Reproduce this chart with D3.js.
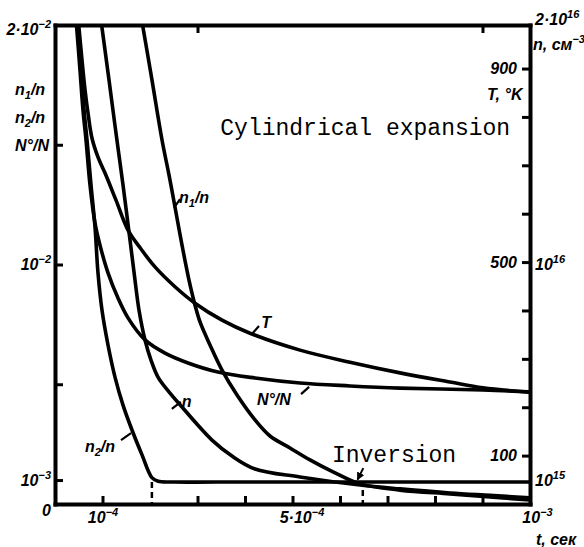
<!DOCTYPE html>
<html>
<head>
<meta charset="utf-8">
<script src="https://cdn.jsdelivr.net/npm/d3@7"></script>
<style>
  body { margin: 0; background: #fff; }
  svg { display: block; }
  .lbl { font-family: "Liberation Sans", Arial, sans-serif; font-weight: bold; font-style: italic; font-size: 16px; fill: #000; }
  .mono { font-family: "Liberation Mono", "DejaVu Sans Mono", monospace; font-size: 23px; fill: #000; }
</style>
</head>
<body>
<svg id="chart" width="584" height="547"></svg>
<script>
// t in units of 1e-4 s, ratios in units of 1e-3, n in units of 1e15 cm^-3, T in K

var n2Ratio = [[0.47,20.05],[0.547,18.12],[0.611,16.45],[0.674,15.2],[0.758,13.32],[0.842,11.57],[0.905,9.65],
  [0.989,8.1],[1.116,6.64],[1.263,5.3],[1.432,4.13],[1.621,3.09],[1.832,2.05],[2.04,1.1],[2.17,0.95],
  [2.5,0.92],[4,0.92],[6,0.92],[8,0.92],[10,0.92]];

var n1Ratio = [[1.84,20.04],[2.042,17.7],[2.253,15.2],[2.4,13.74],[2.526,12.4],[2.674,10.81],[2.821,9.35],
  [2.947,8.31],[3.053,7.6],[3.263,6.64],[3.516,5.59],[3.832,4.55],[4.211,3.51],[4.526,2.84],[4.947,2.34],
  [5.368,1.84],[5.853,1.34],[6.421,0.84],[7.263,0.58],[8.316,0.42],[9.158,0.29],[10,0.17]];

var groundRatio = [[0.45,20.05],[0.526,18.12],[0.589,16.45],[0.653,15.2],[0.737,13.32],[0.842,11.73],
  [0.947,10.81],[1.116,9.65],[1.326,8.6],[1.537,7.77],[1.895,6.85],[2.316,6.3],[2.8,5.89],[3.432,5.51],
  [4.211,5.26],[5.158,5.05],[6.21,4.93],[7.263,4.84],[9.01,4.76],[10,4.68]];

var density = [[0.979,20.04],[1.137,17.7],[1.284,15.49],[1.432,13.32],[1.579,11.02],[1.684,9.35],[1.768,8.1],
  [1.895,6.85],[2.021,6.01],[2.168,5.3],[2.421,4.63],[2.674,4.05],[2.968,3.38],[3.305,2.67],[3.726,2.0],
  [4.211,1.46],[5.158,1.13],[6.421,0.79],[7.263,0.63],[8.316,0.46],[9.158,0.36],[10,0.26]];

var temperature = [[0.49,1000],[0.568,918],[0.632,856],[0.695,808],[0.779,756],[0.905,717],[1.053,684],
  [1.284,628],[1.537,566],[1.811,527],[2.105,490],[2.526,449],[2.947,415],[3.516,380],[4.105,353],
  [5.158,318],[6.21,293],[7.263,271],[8.316,252],[9.01,240],[10,231]];

// dashed drops to the time axis: [t, level]
var drops = [[2.04, 0.92], [6.48, 0.58]];

var timeTicks = [1, 3, 4, 5, 6, 7, 8, 9, 10];
var topTicks = [3, 9];
var ratioTicks = [0, 1, 5, 10, 15, 20];
var tempTicks = [100, 200, 300, 400, 500, 600, 700, 800, 900];
var densTicks = [1, 10, 20];

var timeLabels = {1: "10^{−4}", 5: "5·10^{−4}", 10: "10^{−3}"};
var ratioLabels = {0: "0", 1: "10^{−3}", 10: "10^{−2}", 20: "2·10^{−2}"};
var tempLabels = {100: "100", 500: "500", 900: "900"};
var densLabels = {1: "10^{15}", 10: "10^{16}", 20: "2·10^{16}"};

var svg = d3.select("#chart");
var L = 55, R = 530, T = 25, B = 504;

var x = d3.scaleLinear().domain([0, 10]).range([L, R]);
var yL = d3.scaleLinear().domain([0, 20]).range([B, T]);
var yN = d3.scaleLinear().domain([0, 20]).range([B, T]);
var yT = d3.scaleLinear().domain([0, 990]).range([B, T]);

// text with ^{sup} and _{sub} pieces
function rich(sel, s) {
  sel.text(null);
  var shift = 0;
  s.split(/(\^\{[^}]*\}|_\{[^}]*\})/).filter(Boolean).forEach(function(p) {
    var k = p[0] === "^" ? -7 : p[0] === "_" ? 4 : 0;
    var ts = sel.append("tspan").text(k ? p.slice(2, -1) : p);
    if (k !== shift) ts.attr("dy", k - shift);
    if (k) ts.attr("font-size", "11px");
    shift = k;
  });
}

svg.append("defs").append("clipPath").attr("id", "plot")
  .append("rect").attr("x", L).attr("y", T).attr("width", R - L).attr("height", B - T);

var line = function(y) {
  return d3.line().x(function(d) { return x(d[0]); }).y(function(d) { return y(d[1]); })
    .curve(d3.curveCatmullRom.alpha(0.5));
};

var curves = svg.append("g").attr("clip-path", "url(#plot)")
  .attr("fill", "none").attr("stroke", "#000").attr("stroke-width", 3.6)
  .attr("stroke-linecap", "round").attr("stroke-linejoin", "round");

curves.append("path").attr("d", line(yL)(n2Ratio));
curves.append("path").attr("d", line(yL)(n1Ratio));
curves.append("path").attr("d", line(yL)(groundRatio));
curves.append("path").attr("d", line(yN)(density));
curves.append("path").attr("d", line(yT)(temperature));

svg.append("g").selectAll("line").data(drops).join("line")
  .attr("x1", function(d) { return x(d[0]); }).attr("x2", function(d) { return x(d[0]); })
  .attr("y1", function(d) { return yL(d[1]); }).attr("y2", yL(0))
  .attr("stroke", "#000").attr("stroke-width", 2.5).attr("stroke-dasharray", "6,4");

// axes
function styleAxis(g, labels, tweak) {
  g.attr("font-size", null).attr("font-family", null);
  g.select(".domain").attr("stroke-width", 4).attr("stroke-linecap", "square");
  g.selectAll(".tick line").attr("stroke-width", 3);
  g.selectAll(".tick text").attr("class", "lbl").each(function(d) {
    var s = labels ? labels[d] : null;
    if (s) rich(d3.select(this), s); else d3.select(this).text(null);
    if (tweak && tweak[d]) d3.select(this).attr("transform", "translate(" + tweak[d][0] + "," + tweak[d][1] + ")");
  });
}

svg.append("g").attr("transform", "translate(" + L + ",0)")
  .call(d3.axisLeft(yL).tickValues(ratioTicks).tickSize(-8).tickSizeOuter(0).tickPadding(4))
  .call(styleAxis, ratioLabels, {0: [0, 6], 20: [0, 4]});

svg.append("g").attr("transform", "translate(" + R + ",0)")
  .call(d3.axisLeft(yT).tickValues(tempTicks).tickSize(8).tickSizeOuter(0).tickPadding(5))
  .call(styleAxis, tempLabels, {});

svg.append("g").attr("transform", "translate(" + R + ",0)")
  .call(d3.axisRight(yN).tickValues(densTicks).tickSize(0).tickPadding(5))
  .call(styleAxis, densLabels, {20: [0, -6]})
  .select(".domain").remove();

svg.append("g").attr("transform", "translate(0," + B + ")")
  .call(d3.axisBottom(x).tickValues(timeTicks).tickSize(-8).tickSizeOuter(0).tickPadding(8))
  .call(styleAxis, timeLabels, {5: [9, 0], 10: [7, 0]});

svg.append("g").attr("transform", "translate(0," + T + ")")
  .call(d3.axisTop(x).tickValues(topTicks).tickSize(-8).tickSizeOuter(0))
  .call(styleAxis, null, {});

// axis titles
var titles = [
  {s: "n_{1}/n", x: 15, y: 95},
  {s: "n_{2}/n", x: 15, y: 123},
  {s: "N°/N", x: 15, y: 151},
  {s: "n, см^{−3}", x: 533, y: 50},
  {s: "T, °K", x: 487, y: 100},
  {s: "t, сек", x: 536, y: 545}
];
titles.forEach(function(d) {
  svg.append("text").attr("class", "lbl").attr("x", d.x).attr("y", d.y).call(rich, d.s);
});

// curve labels with short leaders: position t, level (left scale)
var tags = [
  {s: "n_{1}/n", t: 2.61, v: 12.55, from: [2.505, 12.36], to: [2.632, 12.73]},
  {s: "T", t: 4.34, v: 7.35, from: [4.147, 7.1], to: [4.295, 7.43]},
  {s: "N°/N", t: 4.25, v: 4.13, from: [5.18, 4.59], to: [5.35, 4.89]},
  {s: "n", t: 2.67, v: 4.05, from: [2.46, 3.97], to: [2.65, 4.26]},
  {s: "n_{2}/n", t: 0.63, v: 2.17, from: [1.39, 2.67], to: [1.6, 2.96]}
];
tags.forEach(function(d) {
  svg.append("text").attr("class", "lbl").attr("x", x(d.t)).attr("y", yL(d.v)).call(rich, d.s);
  svg.append("line").attr("x1", x(d.from[0])).attr("y1", yL(d.from[1]))
    .attr("x2", x(d.to[0])).attr("y2", yL(d.to[1]))
    .attr("stroke", "#000").attr("stroke-width", 2.2);
});

svg.append("text").attr("class", "mono").attr("x", x(3.48)).attr("y", yL(15.4)).text("Cylindrical expansion");
svg.append("text").attr("class", "mono").attr("x", x(5.83)).attr("y", yL(1.75)).text("Inversion");

// arrow to the inversion point
svg.select("defs").append("marker").attr("id", "head")
  .attr("markerUnits", "userSpaceOnUse").attr("markerWidth", 8).attr("markerHeight", 8)
  .attr("refX", 7).attr("refY", 4).attr("orient", "auto")
  .append("path").attr("d", "M0,0 L8,4 L0,8 z").attr("fill", "#000");
svg.append("line").attr("x1", x(6.49)).attr("y1", yL(1.5)).attr("x2", x(6.37)).attr("y2", yL(1.02))
  .attr("stroke", "#000").attr("stroke-width", 2).attr("marker-end", "url(#head)");
</script>
</body>
</html>
